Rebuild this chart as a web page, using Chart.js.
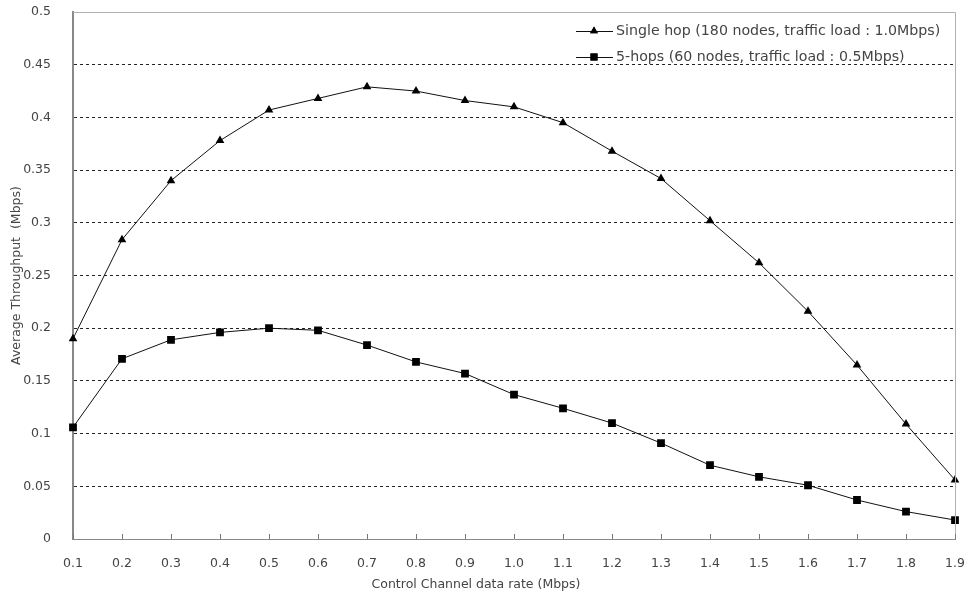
<!DOCTYPE html>
<html>
<head>
<meta charset="utf-8">
<script src="https://cdn.jsdelivr.net/npm/chart.js@4.4.1/dist/chart.umd.min.js"></script>
<style>
    html, body { margin: 0; padding: 0; background: #fff; }
    #wrap { width: 968px; height: 598px; }
</style>
</head>
<body>
<div id="wrap"><canvas id="throughput-chart"></canvas></div>
<script>
/* -------- DATA START -------- */
const rateLabels = ["0.1", "0.2", "0.3", "0.4", "0.5", "0.6", "0.7", "0.8", "0.9", "1.0",
    "1.1", "1.2", "1.3", "1.4", "1.5", "1.6", "1.7", "1.8", "1.9"];
const singleHop = [0.190, 0.284, 0.340, 0.378, 0.407, 0.418, 0.429, 0.425, 0.416, 0.410,
    0.395, 0.368, 0.342, 0.302, 0.262, 0.216, 0.165, 0.109, 0.056];
const fiveHops = [0.106, 0.171, 0.189, 0.196, 0.200, 0.198, 0.184, 0.168, 0.157, 0.137,
    0.124, 0.110, 0.091, 0.070, 0.059, 0.051, 0.037, 0.026, 0.018];
const seriesNames = ["Single hop (180 nodes, traffic load : 1.0Mbps)",
    "5-hops (60 nodes, traffic load : 0.5Mbps)"];
const xTitle = "Control Channel data rate (Mbps)";
const yTitle = "Average Throughput  (Mbps)";
/* -------- DATA END -------- */

const FONT = "'DejaVu Sans', 'Liberation Sans', sans-serif";
const TEXT_COLOR = "#444";

// frame, inward x ticks, x title and the in-plot legend
const decorPlugin = {
    id: "decor",
    afterDraw(chart) {
        const { ctx, chartArea: a, scales } = chart;
        ctx.save();
        // top + right frame
        ctx.strokeStyle = "#b0b0b0";
        ctx.lineWidth = 1;
        ctx.beginPath();
        ctx.moveTo(a.left, a.top + 0.5);
        ctx.lineTo(a.right + 0.5, a.top + 0.5);
        ctx.lineTo(a.right + 0.5, a.bottom);
        ctx.stroke();
        // inward ticks on x axis
        ctx.strokeStyle = "#777";
        scales.x.ticks.forEach((t, i) => {
            const x = Math.round(scales.x.getPixelForTick(i)) + 0.5;
            ctx.beginPath();
            ctx.moveTo(x, a.bottom);
            ctx.lineTo(x, a.bottom - 5);
            ctx.stroke();
        });
        // x axis title
        ctx.fillStyle = TEXT_COLOR;
        ctx.font = "12.5px " + FONT;
        ctx.textAlign = "center";
        ctx.textBaseline = "middle";
        ctx.fillText(xTitle, 476, 585);
        // legend
        const rows = [{ y: 31, style: "triangle" }, { y: 57, style: "rect" }];
        ctx.font = "14.2px " + FONT;
        rows.forEach((r, i) => {
            ctx.strokeStyle = "#111";
            ctx.lineWidth = 1;
            ctx.beginPath();
            ctx.moveTo(576, r.y + 0.5);
            ctx.lineTo(613, r.y + 0.5);
            ctx.stroke();
            ctx.fillStyle = "#000";
            Chart.helpers.drawPoint(ctx, { pointStyle: r.style, radius: r.style === "rect" ? 5 : 4.5, borderWidth: 0 }, 594, r.y);
            ctx.fill();
            ctx.fillStyle = TEXT_COLOR;
            ctx.textAlign = "left";
            ctx.fillText(seriesNames[i], 616, r.y);
        });
        ctx.restore();
    }
};

document.addEventListener("DOMContentLoaded", () => {
    const ctx = document.getElementById("throughput-chart").getContext("2d");
    new Chart(ctx, {
        type: "line",
        data: {
            labels: rateLabels,
            datasets: [
                {
                    label: seriesNames[0],
                    data: singleHop,
                    borderColor: "#111",
                    backgroundColor: "#000",
                    borderWidth: 1,
                    pointStyle: "triangle",
                    pointRadius: 5,
                    pointBorderWidth: 0,
                    tension: 0,
                },
                {
                    label: seriesNames[1],
                    data: fiveHops,
                    borderColor: "#111",
                    backgroundColor: "#000",
                    borderWidth: 1,
                    pointStyle: "rect",
                    pointRadius: 5.5,
                    pointBorderWidth: 0,
                    tension: 0,
                },
            ],
        },
        options: {
            responsive: true,
            maintainAspectRatio: false,
            animation: false,
            layout: { padding: { left: 0, right: 13, top: 12, bottom: 0 } },
            plugins: { legend: { display: false }, tooltip: { enabled: false } },
            scales: {
                x: {
                    offset: false,
                    afterFit: (s) => { s.height = 59; s.paddingLeft = 0; s.paddingRight = 0; },
                    grid: { display: false, drawTicks: false },
                    border: { color: "#888", width: 1 },
                    ticks: { color: TEXT_COLOR, font: { family: FONT, size: 12.5 }, padding: 17, maxRotation: 0, autoSkip: false },
                    title: { display: false },
                },
                y: {
                    min: 0,
                    max: 0.5,
                    afterFit: (s) => { s.width = 73; s.paddingTop = 0; s.paddingBottom = 0; },
                    grid: {
                        drawTicks: false,
                        color: (c) => (c.tick && (Math.abs(c.tick.value) < 1e-9 || Math.abs(c.tick.value - 0.5) < 1e-9)) ? "rgba(0,0,0,0)" : "#222",
                        lineWidth: 1,
                    },
                    border: { color: "#888", width: 2, dash: [3, 3] },
                    ticks: {
                        stepSize: 0.05,
                        color: TEXT_COLOR,
                        font: { family: FONT, size: 12.5 },
                        padding: 22,
                        callback: (v) => String(Math.round(v * 100) / 100),
                    },
                    title: {
                        display: true,
                        text: yTitle,
                        color: TEXT_COLOR,
                        font: { family: FONT, size: 12.5 },
                        padding: { top: 9, bottom: 0 },
                    },
                },
            },
        },
        plugins: [decorPlugin],
    });
});
</script>
</body>
</html>
